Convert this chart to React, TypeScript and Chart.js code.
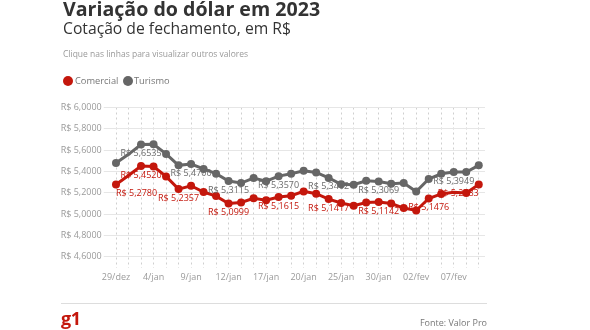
import React, { useEffect, useRef } from 'react';
import { Chart, registerables } from 'chart.js';

Chart.register(...registerables);

const categories = [
  '29/dez', '2/jan', '3/jan', '4/jan', '5/jan', '6/jan', '9/jan', '10/jan', '11/jan', '12/jan',
  '13/jan', '16/jan', '17/jan', '18/jan', '19/jan', '20/jan', '23/jan', '24/jan', '25/jan', '26/jan',
  '27/jan', '30/jan', '31/jan', '01/fev', '02/fev', '03/fev', '06/fev', '07/fev', '08/fev', '09/fev',
];

const comercial = [
  5.278, 5.3627, 5.452, 5.447, 5.354, 5.2357, 5.267, 5.208, 5.17, 5.0999,
  5.11, 5.15, 5.132, 5.1615, 5.173, 5.214, 5.192, 5.1417, 5.105, 5.079,
  5.11, 5.1142, 5.1, 5.058, 5.035, 5.1476, 5.19, 5.205, 5.2, 5.2783,
];

const turismo = [
  5.48, 5.561, 5.6535, 5.655, 5.565, 5.458, 5.47, 5.424, 5.38, 5.3115,
  5.292, 5.339, 5.31, 5.357, 5.38, 5.408, 5.392, 5.3402, 5.28, 5.276,
  5.314, 5.3069, 5.286, 5.292, 5.213, 5.33, 5.38, 5.3949, 5.395, 5.458,
];

const yTicks = [4.6, 4.8, 5.0, 5.2, 5.4, 5.6, 5.8, 6.0];
const comercialLabelIdx = [0, 2, 5, 9, 13, 17, 21, 25, 29];
const turismoLabelIdx = [2, 6, 9, 13, 17, 21, 27];
const comercialHidden = [1, 27];
const turismoHidden = [1];

const RED = '#c4170c';
const GRAY = '#666666';
const FONT = '"Open Sans", sans-serif';

const fmt = (v: number) => 'R$ ' + v.toFixed(4).replace('.', ',');

const labelPlugin = {
  id: 'pointLabels',
  afterDatasetsDraw(chart: any) {
    const ctx = chart.ctx;
    const sets = [
      { ds: 0, idx: comercialLabelIdx, color: RED },
      { ds: 1, idx: turismoLabelIdx, color: '#6b6b6b' },
    ];
    ctx.save();
    ctx.font = `9px ${FONT}`;
    ctx.textBaseline = 'middle';
    sets.forEach((s) => {
      const meta = chart.getDatasetMeta(s.ds);
      const data = chart.data.datasets[s.ds].data as number[];
      s.idx.forEach((i) => {
        const pt = meta.data[i];
        ctx.fillStyle = s.color;
        ctx.textAlign = i === 0 ? 'left' : i === data.length - 1 ? 'right' : 'center';
        ctx.fillText(fmt(data[i]), pt.x, pt.y + 9);
      });
    });
    ctx.restore();
  },
};

const abs = (left: number, top: number, extra: any = {}) => ({
  position: 'absolute' as const,
  left,
  top,
  whiteSpace: 'nowrap' as const,
  margin: 0,
  fontFamily: FONT,
  ...extra,
});

export default function App() {
  const ref = useRef<HTMLCanvasElement>(null);

  useEffect(() => {
    const chart = new Chart(ref.current!, {
      type: 'line',
      data: {
        labels: categories,
        datasets: [
          {
            label: 'Comercial',
            data: comercial,
            borderColor: RED,
            backgroundColor: RED,
            pointBackgroundColor: RED,
            pointBorderColor: RED,
            borderWidth: 3,
            pointRadius: comercial.map((_, i) => (comercialHidden.includes(i) ? 0 : 4)),
            pointBorderWidth: 0,
            tension: 0,
          },
          {
            label: 'Turismo',
            data: turismo,
            borderColor: GRAY,
            backgroundColor: GRAY,
            pointBackgroundColor: GRAY,
            pointBorderColor: GRAY,
            borderWidth: 3,
            pointRadius: turismo.map((_, i) => (turismoHidden.includes(i) ? 0 : 4)),
            pointBorderWidth: 0,
            tension: 0,
          },
        ],
      },
      options: {
        responsive: false,
        animation: false,
        layout: { padding: { left: 59.75, right: 105, top: 107.5, bottom: 42.4 } },
        plugins: { legend: { display: false }, tooltip: { enabled: false } },
        scales: {
          x: {
            offset: true,
            grid: { color: '#cfcfcf', drawTicks: false, lineWidth: 1 },
            border: { display: false, dash: [2, 3] },
            ticks: {
              autoSkip: false,
              maxRotation: 0,
              padding: 4,
              color: '#9a9a9a',
              font: { family: FONT, size: 9 },
              callback: (_v: any, i: number) => (i % 3 === 0 ? categories[i] : ''),
            },
            afterFit: (s: any) => {
              s.height = 20;
            },
          },
          y: {
            min: 4.5,
            max: 6.0,
            afterBuildTicks: (s: any) => {
              s.ticks = yTicks.map((v) => ({ value: v }));
            },
            grid: { color: '#e6e6e6', tickLength: 6, tickColor: '#e6e6e6' },
            border: { display: false },
            ticks: {
              color: '#9a9a9a',
              padding: 2,
              font: { family: FONT, size: 9 },
              callback: (v: any) => fmt(Number(v)),
            },
            afterFit: (s: any) => {
              s.width = 50;
            },
          },
        },
      },
      plugins: [labelPlugin],
    });
    return () => chart.destroy();
  }, []);

  return (
    <div style={{ position: 'absolute', left: 0, top: 0, width: 590, height: 330, background: '#fff', fontFamily: FONT, overflow: 'hidden' }}>
      <canvas ref={ref} width={590} height={330} style={{ position: 'absolute', left: 0, top: 0, display: 'block' }} />
      <div style={abs(63, -0.8, { fontSize: 19.6, lineHeight: '19.6px', fontWeight: 700, color: '#333' })}>Variação do dólar em 2023</div>
      <div style={abs(63, 20.5, { fontSize: 15.7, lineHeight: '15.7px', color: '#333' })}>Cotação de fechamento, em R$</div>
      <div style={abs(63, 49.5, { fontSize: 8.5, lineHeight: '8.5px', color: '#999' })}>Clique nas linhas para visualizar outros valores</div>
      <div style={abs(63, 76, { width: 10, height: 10, borderRadius: 5, background: RED })} />
      <div style={abs(75, 75.7, { fontSize: 9.3, lineHeight: '9.3px', color: '#777' })}>Comercial</div>
      <div style={abs(123, 76, { width: 10, height: 10, borderRadius: 5, background: GRAY })} />
      <div style={abs(134, 75.7, { fontSize: 9.3, lineHeight: '9.3px', color: '#777' })}>Turismo</div>
      <div style={abs(61, 303, { width: 426, height: 1, background: '#dddddd' })} />
      <div style={abs(61, 309, { fontSize: 18, lineHeight: '18px', fontWeight: 700, color: RED, letterSpacing: -0.5 })}>g1</div>
      <div style={{ position: 'absolute', right: 103, top: 318, fontSize: 9, lineHeight: '9px', color: '#777', whiteSpace: 'nowrap', fontFamily: FONT }}>Fonte: Valor Pro</div>
    </div>
  );
}
